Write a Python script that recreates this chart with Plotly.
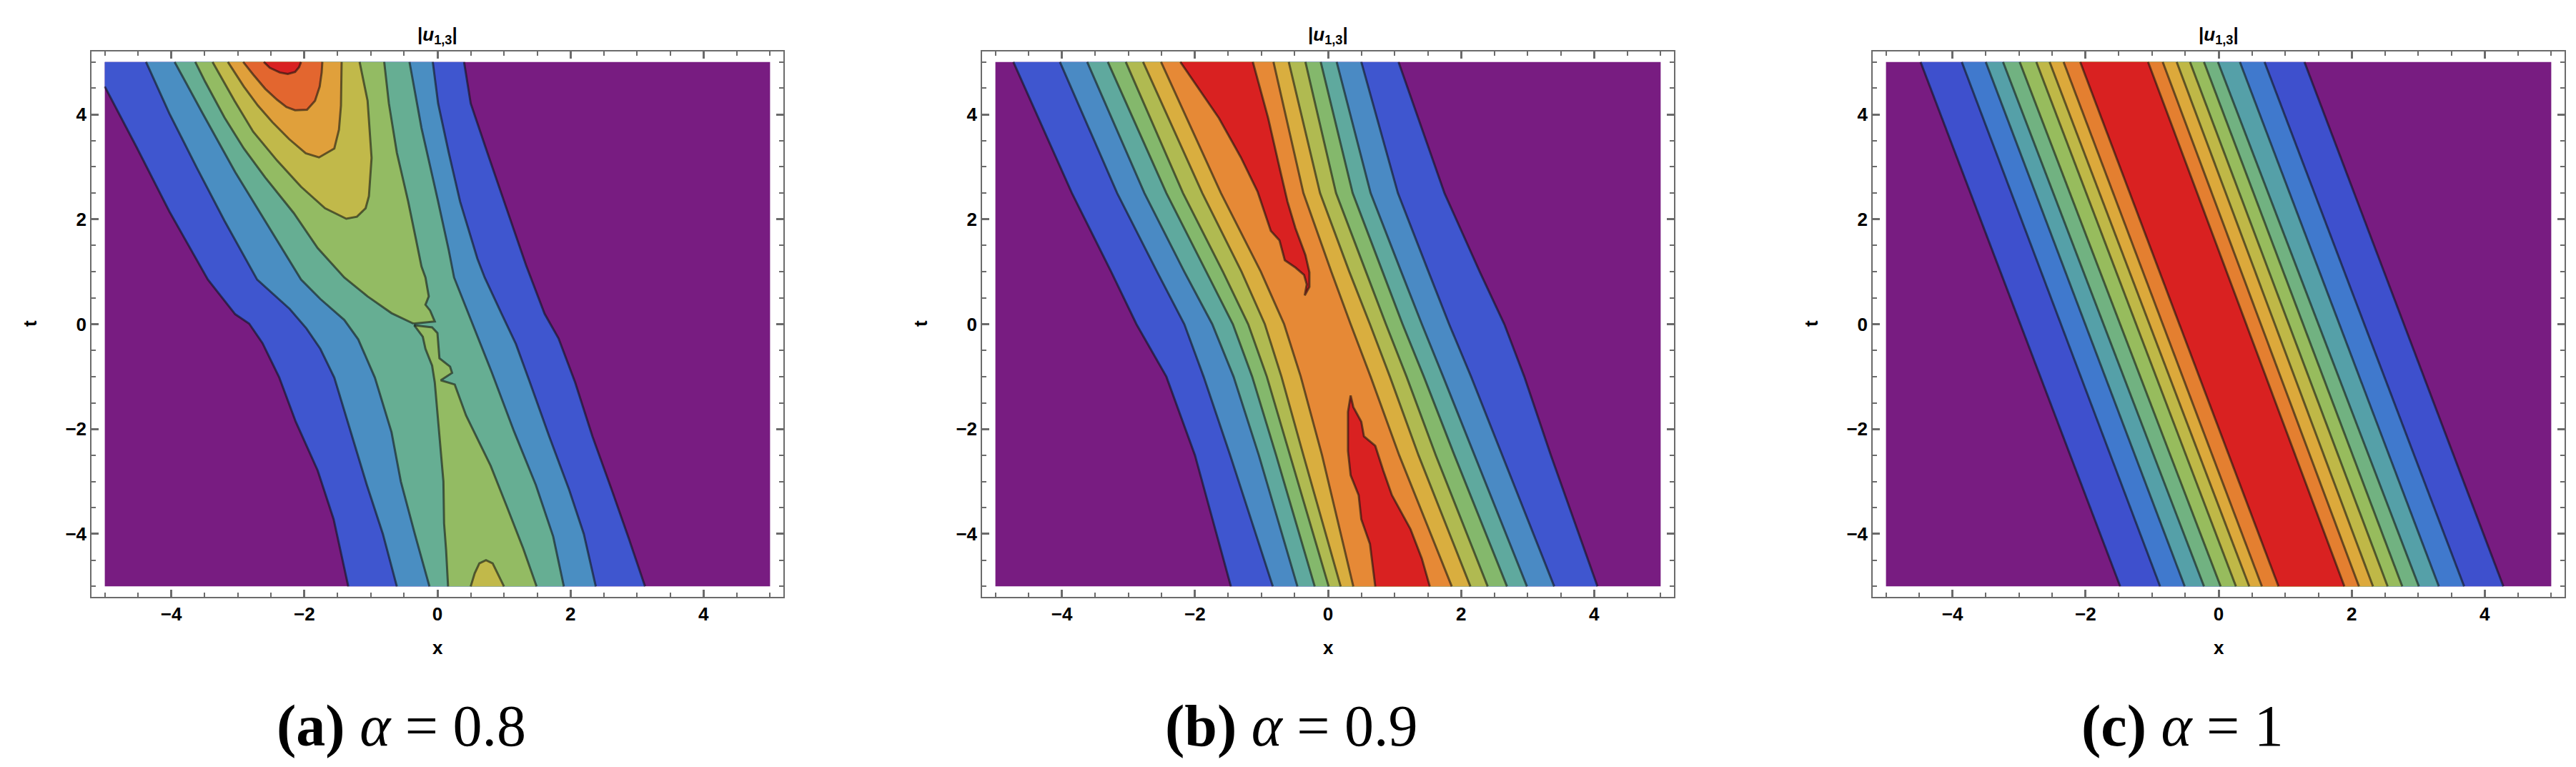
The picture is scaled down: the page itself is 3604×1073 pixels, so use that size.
import plotly.graph_objects as go

# ---------------- data ----------------
X_EDGES = [-5.0, 5.0]
T_EDGES = [-5.0, 5.0]
MAJOR_TICKS = [-4, -2, 0, 2, 4]
PANEL_TITLE = "<b>|<i>u</i><sub>1,3</sub>|</b>"
CAPTIONS = ["<b>(a)</b> <i>α</i> = 0.8", "<b>(b)</b> <i>α</i> = 0.9", "<b>(c)</b> <i>α</i> = 1"]

# fill colours, lowest level first
A_COLORS = ["#781c81", "#3f56cf", "#4a8ec2", "#66ae93", "#93bb63", "#c1b94a", "#e0a03b", "#e3662f", "#d92121"]
B_COLORS = ["#781c81", "#3f56cf", "#4a8ac4", "#5fa99e", "#84b86c", "#b0ba51", "#d9ae3f", "#e68936", "#d92121"]
C_COLORS = ["#781c81", "#3e50cd", "#4079cd", "#55a0a8", "#71b281", "#97bc5d", "#bfb847", "#dca93b", "#e47f30", "#d92121"]

# ---- panel (a): contour lines as (x, t) points ----
a_L1_left = [(-5.0, 4.53), (-4.52, 3.37), (-4.03, 2.15), (-3.45, 0.85), (-3.04, 0.19), (-2.83, 0.01),
             (-2.63, -0.36), (-2.38, -1.01), (-2.13, -1.86), (-1.80, -2.79), (-1.56, -3.72), (-1.34, -5.0)]
a_L1_right = [(0.40, 5.0), (0.50, 4.21), (0.75, 3.27), (1.00, 2.34), (1.33, 1.13), (1.61, 0.20), (1.82, -0.27),
              (2.07, -1.11), (2.33, -2.14), (2.62, -3.16), (2.88, -4.10), (3.12, -5.0)]
a_L2_left = [(-4.38, 5.0), (-4.03, 4.02), (-3.62, 2.99), (-3.20, 1.97), (-2.71, 0.85), (-2.22, 0.29), (-1.97, -0.08),
             (-1.76, -0.47), (-1.55, -1.02), (-1.30, -2.06), (-1.06, -3.07), (-0.82, -4.0), (-0.61, -5.0)]
a_L2_right = [(-0.07, 5.0), (0.01, 4.21), (0.17, 3.27), (0.34, 2.34), (0.60, 1.25), (0.71, 0.89), (0.96, 0.21),
              (1.18, -0.38), (1.39, -1.11), (1.68, -2.14), (1.98, -3.16), (2.20, -4.0), (2.38, -5.0)]
a_L3_left = [(-3.95, 5.0), (-3.53, 4.02), (-3.04, 2.90), (-2.55, 1.88), (-2.05, 0.85), (-1.76, 0.48), (-1.40, 0.08),
             (-1.19, -0.29), (-0.94, -1.02), (-0.69, -2.06), (-0.55, -3.0), (-0.34, -4.0), (-0.12, -5.0)]
a_L3_right = [(-0.42, 5.0), (-0.24, 3.74), (0.01, 2.34), (0.17, 1.41), (0.25, 0.89), (0.39, 0.44), (0.60, -0.24),
              (0.82, -0.93), (1.15, -2.04), (1.48, -3.07), (1.74, -4.05), (1.90, -5.0)]
a_L4_upper_left = [(-3.64, 5.0), (-3.49, 4.62), (-3.20, 3.94), (-2.91, 3.35), (-2.59, 2.80), (-2.16, 2.12),
                   (-1.80, 1.45), (-1.40, 0.89), (-1.05, 0.53), (-0.69, 0.21), (-0.36, 0.01)]
a_L4_upper_right = [(-0.80, 5.0), (-0.73, 4.21), (-0.61, 3.27), (-0.44, 2.34), (-0.32, 1.60), (-0.24, 1.10),
                    (-0.18, 0.89), (-0.13, 0.53), (-0.18, 0.37), (-0.11, 0.26), (-0.04, 0.05), (-0.36, 0.01)]
a_L4_lower_left = [(-0.35, -0.02), (-0.22, -0.24), (-0.18, -0.47), (-0.08, -0.79), (-0.04, -1.11), (-0.01, -1.56),
                   (0.03, -2.11), (0.09, -3.0), (0.10, -3.8), (0.13, -4.3), (0.16, -5.0)]
a_L4_lower_right = [(-0.35, -0.02), (-0.08, -0.06), (0.00, -0.17), (0.03, -0.65), (0.19, -0.81), (0.22, -0.93),
                    (0.05, -1.07), (0.26, -1.15), (0.43, -1.74), (0.57, -2.11), (0.80, -2.7), (1.05, -3.5),
                    (1.29, -4.28), (1.49, -5.0)]
a_L5_upper = [(-3.38, 5.0), (-3.27, 4.76), (-3.05, 4.26), (-2.77, 3.67), (-2.41, 3.12), (-2.05, 2.62), (-1.69, 2.21),
              (-1.37, 2.01), (-1.21, 2.05), (-1.08, 2.21), (-1.03, 2.44), (-0.99, 3.17), (-1.05, 4.26), (-1.17, 5.0)]
a_L5_blob = [(0.50, -5.0), (0.56, -4.75), (0.63, -4.56), (0.73, -4.50), (0.83, -4.56), (0.91, -4.76), (1.00, -5.0)]
a_L6 = [(-3.15, 5.0), (-3.05, 4.80), (-2.91, 4.53), (-2.70, 4.17), (-2.48, 3.85), (-2.23, 3.53), (-1.98, 3.26),
        (-1.78, 3.18), (-1.55, 3.35), (-1.48, 3.71), (-1.45, 4.17), (-1.44, 5.0)]
a_L7 = [(-2.92, 5.0), (-2.77, 4.76), (-2.59, 4.49), (-2.41, 4.28), (-2.27, 4.14), (-2.14, 4.08), (-1.96, 4.09),
        (-1.84, 4.26), (-1.77, 4.53), (-1.74, 4.80), (-1.73, 5.0)]
a_L8 = [(-2.61, 5.0), (-2.52, 4.89), (-2.37, 4.80), (-2.25, 4.77), (-2.14, 4.81), (-2.08, 4.90), (-2.05, 5.0)]

# ---- panel (b): band edges sampled at B_T ----
B_T = [5.0, 2.5, 1.0, 0.0, -1.0, -2.5, -5.0]
b_left = [
    [-4.73, -3.85, -3.26, -2.88, -2.43, -2.00, -1.46],
    [-4.03, -3.17, -2.57, -2.16, -1.87, -1.47, -0.83],
    [-3.62, -2.76, -2.16, -1.74, -1.42, -1.04, -0.46],
    [-3.31, -2.43, -1.83, -1.43, -1.14, -0.78, -0.20],
    [-3.04, -2.18, -1.58, -1.20, -0.92, -0.57, 0.01],
    [-2.78, -1.89, -1.30, -0.95, -0.70, -0.37, 0.19],
    [-2.51, -1.61, -1.01, -0.66, -0.41, -0.09, 0.38],
]
b_right = [
    [1.06, 1.75, 2.28, 2.65, 2.95, 3.35, 4.05],
    [0.50, 1.05, 1.51, 1.82, 2.15, 2.62, 3.40],
    [0.13, 0.64, 1.10, 1.41, 1.73, 2.20, 2.99],
    [-0.11, 0.37, 0.82, 1.12, 1.44, 1.90, 2.69],
    [-0.34, 0.12, 0.57, 0.87, 1.18, 1.62, 2.40],
    [-0.59, -0.12, 0.32, 0.63, 0.93, 1.36, 2.14],
    [-0.82, -0.37, 0.05, 0.34, 0.64, 1.07, 1.86],
]
b_L8_upper = [(-2.22, 5.0), (-1.64, 3.93), (-1.31, 3.18), (-1.06, 2.53), (-0.86, 1.78), (-0.73, 1.60), (-0.65, 1.22),
              (-0.49, 1.08), (-0.36, 0.94), (-0.32, 0.76), (-0.35, 0.55), (-0.28, 0.71), (-0.28, 0.99), (-0.34, 1.32),
              (-0.49, 1.83), (-0.61, 2.34), (-0.73, 2.99), (-0.90, 3.93), (-1.13, 5.0)]
b_L8_lower = [(1.53, -5.0), (1.41, -4.47), (1.24, -3.91), (0.96, -3.26), (0.83, -2.79), (0.71, -2.32), (0.54, -2.14),
              (0.50, -1.86), (0.38, -1.58), (0.34, -1.36), (0.30, -1.67), (0.30, -2.14), (0.30, -2.42), (0.34, -2.88),
              (0.46, -3.26), (0.50, -3.72), (0.63, -4.19), (0.71, -5.0)]

# ---- panel (c): straight band edges, x at t = 5 and t = -5 ----
C_T = [5.0, -5.0]
c_left_top = [-4.48, -3.86, -3.50, -3.24, -2.99, -2.74, -2.54, -2.33, -2.08]
c_left_bottom = [-1.48, -0.88, -0.51, -0.22, 0.03, 0.26, 0.46, 0.65, 0.90]
c_right_top = [1.29, 0.69, 0.32, -0.01, -0.22, -0.43, -0.63, -0.84, -1.06]
c_right_bottom = [4.28, 3.69, 3.31, 3.01, 2.76, 2.54, 2.32, 2.11, 1.89]

# ---------------- layout constants ----------------
W, H = 3604, 1073
FRAMES = [(120, 1088), (1366, 2334), (2612, 3580)]
TOP, BOT = 64, 827
PAD = 0.2
LINE_COLOR = "rgba(15,15,15,0.58)"
AX_COLOR = "#6b6b6b"

fig = go.Figure()


def xs(pts):
    return [p[0] for p in pts]


def ts(pts):
    return [p[1] for p in pts]


def add_fill(k, pts, color):
    fig.add_trace(go.Scatter(x=xs(pts), y=ts(pts), mode="lines", fill="toself", fillcolor=color,
                             line=dict(width=0), hoverinfo="skip", showlegend=False,
                             xaxis=f"x{k}", yaxis=f"y{k}"))


def add_line(k, pts):
    fig.add_trace(go.Scatter(x=xs(pts), y=ts(pts), mode="lines", line=dict(color=LINE_COLOR, width=3),
                             hoverinfo="skip", showlegend=False, xaxis=f"x{k}", yaxis=f"y{k}"))


def background(k, color):
    rect = [(X_EDGES[0], T_EDGES[0]), (X_EDGES[1], T_EDGES[0]), (X_EDGES[1], T_EDGES[1]), (X_EDGES[0], T_EDGES[1])]
    add_fill(k, rect, color)


# ---- panel a ----
background("", A_COLORS[0])
add_fill("", [(X_EDGES[0], T_EDGES[1])] + a_L1_left + a_L1_right[::-1], A_COLORS[1])
add_fill("", a_L2_left + a_L2_right[::-1], A_COLORS[2])
add_fill("", a_L3_left + a_L3_right[::-1], A_COLORS[3])
add_fill("", a_L4_upper_left + a_L4_upper_right[::-1], A_COLORS[4])
add_fill("", a_L4_lower_left + a_L4_lower_right[::-1], A_COLORS[4])
add_fill("", a_L5_upper, A_COLORS[5])
add_fill("", a_L5_blob, A_COLORS[5])
add_fill("", a_L6, A_COLORS[6])
add_fill("", a_L7, A_COLORS[7])
add_fill("", a_L8, A_COLORS[8])
for line in [a_L1_left, a_L1_right, a_L2_left, a_L2_right, a_L3_left, a_L3_right, a_L4_upper_left,
             a_L4_upper_right, a_L4_lower_left, a_L4_lower_right, a_L5_upper, a_L5_blob, a_L6, a_L7, a_L8]:
    add_line("", line)

# ---- panel b ----
background("2", B_COLORS[0])
b_lines = []
for i in range(len(b_left)):
    left = list(zip(b_left[i], B_T))
    right = list(zip(b_right[i], B_T))
    add_fill("2", left + right[::-1], B_COLORS[i + 1])
    b_lines += [left, right]
add_fill("2", b_L8_upper, B_COLORS[8])
add_fill("2", b_L8_lower, B_COLORS[8])
for line in b_lines + [b_L8_upper, b_L8_lower]:
    add_line("2", line)

# ---- panel c ----
background("3", C_COLORS[0])
c_lines = []
for i in range(len(c_left_top)):
    left = list(zip([c_left_top[i], c_left_bottom[i]], C_T))
    right = list(zip([c_right_top[i], c_right_bottom[i]], C_T))
    add_fill("3", left + right[::-1], C_COLORS[i + 1])
    c_lines += [left, right]
for line in c_lines:
    add_line("3", line)

# ---------------- axes ----------------
rng = [X_EDGES[0] - PAD, X_EDGES[1] + PAD]
trng = [T_EDGES[0] - PAD, T_EDGES[1] + PAD]
tick_text = [("<b>−%d</b>" % abs(v)) if v < 0 else ("<b>%d</b>" % v) for v in MAJOR_TICKS]


def axis(domain, r, anchor):
    return dict(domain=domain, range=r, anchor=anchor, tickmode="array", tickvals=MAJOR_TICKS,
                ticktext=tick_text,
                ticks="inside", ticklen=10, tickwidth=2.5, tickcolor=AX_COLOR,
                showline=True, linecolor=AX_COLOR, linewidth=1.5, mirror="allticks",
                showgrid=False, zeroline=False, fixedrange=True,
                tickfont=dict(family="Liberation Sans", size=26, color="black"),
                minor=dict(tickmode="linear", tick0=0, dtick=0.5, ticks="inside", ticklen=6,
                           tickwidth=1.8, tickcolor=AX_COLOR, showgrid=False))


ydom = [1 - BOT / H, 1 - TOP / H]
layout = dict(width=W, height=H, margin=dict(l=0, r=0, t=0, b=0), paper_bgcolor="white",
              plot_bgcolor="white", showlegend=False)
annotations = []
suffixes = ["", "2", "3"]
for i, (l, r) in enumerate(FRAMES):
    s = suffixes[i]
    layout["xaxis" + s] = axis([l / W, r / W], rng, "y" + s)
    layout["yaxis" + s] = axis(ydom, trng, "x" + s)
    cx = (l + r) / 2
    annotations.append(dict(text=PANEL_TITLE, x=cx / W, y=1 - 42 / H, xref="paper", yref="paper",
                            showarrow=False, xanchor="center", yanchor="middle",
                            font=dict(family="Liberation Sans", size=26, color="black")))
    annotations.append(dict(text="<b>x</b>", x=cx / W, y=1 - 898 / H, xref="paper", yref="paper",
                            showarrow=False, xanchor="center", yanchor="middle",
                            font=dict(family="Liberation Sans", size=26, color="black")))
    annotations.append(dict(text="<b>t</b>", x=(l - 86) / W, y=1 - 445 / H, xref="paper", yref="paper",
                            showarrow=False, xanchor="center", yanchor="middle", textangle=-90,
                            font=dict(family="Liberation Sans", size=26, color="black")))
    annotations.append(dict(text=CAPTIONS[i], x=(cx - 51) / W, y=1 - 1008 / H, xref="paper", yref="paper",
                            showarrow=False, xanchor="center", yanchor="middle",
                            font=dict(family="Liberation Serif", size=82, color="black")))
layout["annotations"] = annotations
fig.update_layout(**layout)

fig.write_html("out.html")
